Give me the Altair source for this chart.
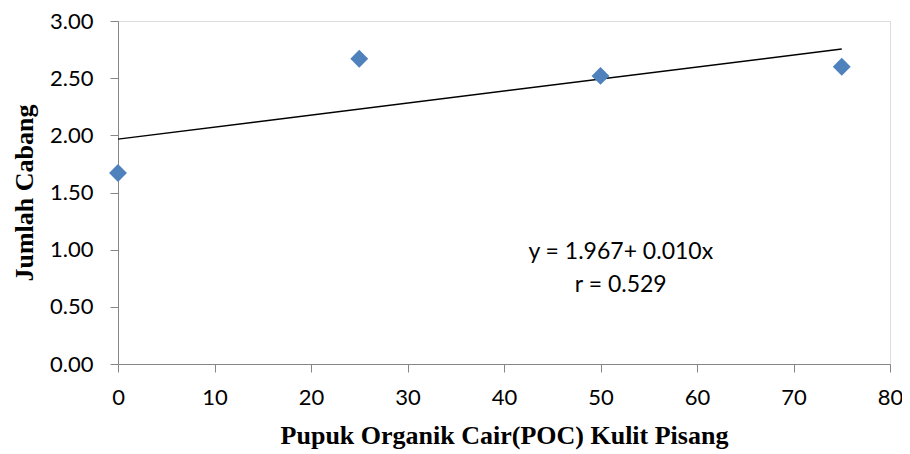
import altair as alt
import pandas as pd

x_vals = [0, 25, 50, 75]
y_vals = [1.67, 2.67, 2.52, 2.60]
trend_x = [0, 75]
trend_y = [1.967, 2.755]
ann_lines = ["y = 1.967+ 0.010x", "r = 0.529"]
ann_x = [52.1, 52.1]
ann_y = [0.98, 0.69]

pts = pd.DataFrame({"x": x_vals, "y": y_vals})
trend = pd.DataFrame({"x": trend_x, "y": trend_y})
ann = pd.DataFrame({"x": ann_x, "y": ann_y, "t": ann_lines})

xs = alt.Scale(domain=[0, 80], nice=False, zero=False)
ys = alt.Scale(domain=[0, 3], nice=False, zero=False)

xaxis = alt.Axis(values=list(range(0, 81, 10)), title="Pupuk Organik Cair(POC) Kulit Pisang",
                 grid=False, domainColor="#868686", tickColor="#868686", tickSize=8,
                 labelFlush=False,
                 labelFont="Lato", labelFontSize=22, labelColor="black", labelPadding=15,
                 titleFont="Liberation Serif", titleFontSize=26, titleFontWeight="bold",
                 titleColor="black", titlePadding=14)
yaxis = alt.Axis(values=[0, 0.5, 1, 1.5, 2, 2.5, 3], format=".2f", title="Jumlah Cabang",
                 grid=False, domainColor="#868686", tickColor="#868686", tickSize=8,
                 labelFlush=False,
                 labelFont="Lato", labelFontSize=22, labelColor="black", labelPadding=17,
                 titleFont="Liberation Serif", titleFontSize=26, titleFontWeight="bold",
                 titleColor="black", titlePadding=12)

line = alt.Chart(trend).mark_line(color="black", strokeWidth=1.4).encode(
    x=alt.X("x:Q", scale=xs, axis=xaxis),
    y=alt.Y("y:Q", scale=ys, axis=yaxis),
)
points = alt.Chart(pts).mark_point(shape="diamond", filled=True, color="#4F81BD", size=320, opacity=1).encode(
    x=alt.X("x:Q", scale=xs),
    y=alt.Y("y:Q", scale=ys),
)
text = alt.Chart(ann).mark_text(font="Lato", fontSize=23, color="black", align="center", baseline="middle").encode(
    x=alt.X("x:Q", scale=xs),
    y=alt.Y("y:Q", scale=ys),
    text="t:N",
)

chart = alt.layer(line, points, text).properties(
    width=772, height=343,
    autosize=alt.AutoSizeParams(type="none"),
    padding={"left": 110, "top": 13, "right": 12, "bottom": 90},
).configure_view(stroke=None).configure(background="white")

chart.save("out.html", embed_options={"renderer": "svg", "actions": False})
